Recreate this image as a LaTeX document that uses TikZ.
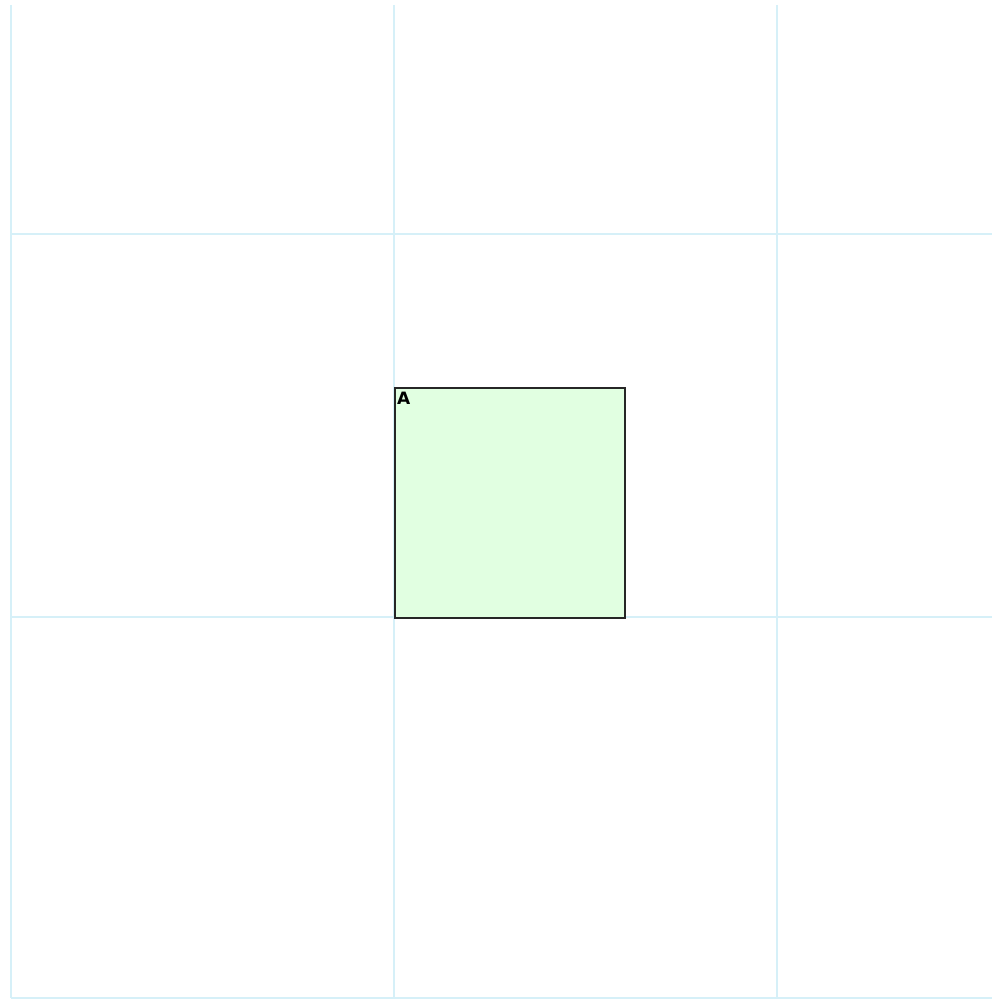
\documentclass[tikz,border=0pt]{standalone}
\usepackage{fontspec}
\setmainfont{DejaVu Sans}
\definecolor{gridc}{RGB}{214,240,248}
\definecolor{boxfill}{RGB}{225,255,225}
\begin{document}
\begin{tikzpicture}[x=1pt,y=-1pt,
  gridline/.style={draw=gridc,line width=1.2pt},
  boxnode/.style={draw=black!85,fill=boxfill,line width=1.6pt,minimum width=230pt,minimum height=230pt,inner sep=0pt,anchor=north west},
  lbl/.style={font=\bfseries\fontsize{17}{17}\selectfont,anchor=north west,inner sep=0pt}]
\useasboundingbox (0,0) rectangle (992,1000);
\foreach \x in {11,394,777} \draw[gridline] (\x,5) -- (\x,998);
\foreach \y in {234,617,998} \draw[gridline] (11,\y) -- (992,\y);
\node[boxnode] (A) at (394,387) {};
\node[lbl] (Alabel) at ([xshift=3pt,yshift=-5pt]A.north west) {A};
\end{tikzpicture}
\end{document}
